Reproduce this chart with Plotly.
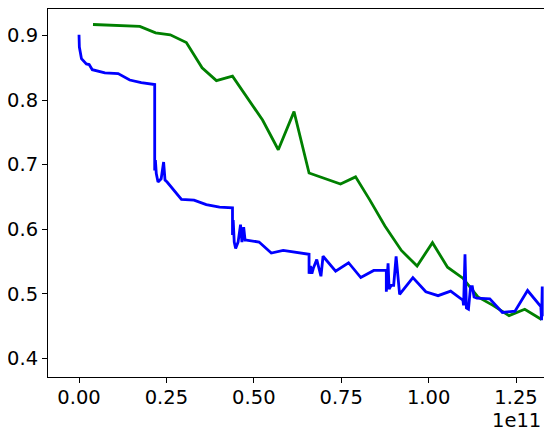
import plotly.graph_objs as go

# x values are in units of 1e11
blue_x = [0.000, 0.001, 0.007, 0.021, 0.029, 0.038, 0.074, 0.112, 0.145, 0.178,
          0.2165, 0.2165, 0.2185, 0.221, 0.226, 0.235, 0.242, 0.246, 0.252, 0.293,
          0.329, 0.364, 0.402, 0.439, 0.439, 0.441, 0.444, 0.448, 0.455, 0.462,
          0.466, 0.471, 0.475, 0.479, 0.515, 0.550, 0.584, 0.658, 0.658, 0.662,
          0.666, 0.670, 0.680, 0.686, 0.692, 0.698, 0.734, 0.771, 0.806, 0.843,
          0.879, 0.879, 0.884, 0.887, 0.893, 0.900, 0.907, 0.917, 0.955, 0.992,
          1.027, 1.063, 1.098, 1.100, 1.104, 1.108, 1.114, 1.120, 1.125, 1.130,
          1.138, 1.175, 1.211, 1.247, 1.283, 1.321, 1.323, 1.325, 1.325]
blue_y = [0.901, 0.882, 0.864, 0.856, 0.855, 0.847, 0.842, 0.841, 0.831, 0.827,
          0.824, 0.691, 0.707, 0.686, 0.673, 0.678, 0.704, 0.676, 0.673, 0.646,
          0.645, 0.638, 0.634, 0.633, 0.591, 0.614, 0.580, 0.570, 0.580, 0.607,
          0.580, 0.603, 0.583, 0.583, 0.580, 0.563, 0.567, 0.561, 0.531, 0.543,
          0.531, 0.539, 0.553, 0.540, 0.527, 0.558, 0.535, 0.548, 0.525, 0.536,
          0.536, 0.503, 0.547, 0.507, 0.513, 0.513, 0.558, 0.499, 0.525, 0.503,
          0.497, 0.504, 0.490, 0.482, 0.561, 0.478, 0.476, 0.511, 0.511, 0.495,
          0.493, 0.492, 0.471, 0.473, 0.505, 0.480, 0.459, 0.511, 0.465]

green_x = [0.040, 0.174, 0.219, 0.261, 0.307, 0.352, 0.393, 0.439, 0.525, 0.570,
           0.615, 0.658, 0.748, 0.791, 0.832, 0.875, 0.922, 0.967, 1.011, 1.054,
           1.098, 1.141, 1.184, 1.230, 1.275, 1.323]
green_y = [0.917, 0.914, 0.904, 0.901, 0.889, 0.850, 0.830, 0.837, 0.769, 0.723,
           0.782, 0.687, 0.670, 0.681, 0.645, 0.605, 0.567, 0.543, 0.579, 0.541,
           0.524, 0.495, 0.482, 0.466, 0.476, 0.460]

x_ticks = [0.0, 0.25, 0.5, 0.75, 1.0, 1.25]
y_ticks = [0.4, 0.5, 0.6, 0.7, 0.8, 0.9]

traces = [
    go.Scatter(x=green_x, y=green_y, mode='lines', line=dict(color='#008000', width=2.8)),
    go.Scatter(x=blue_x, y=blue_y, mode='lines', line=dict(color='#0000ff', width=2.8)),
]

axis_style = dict(
    showgrid=False, zeroline=False, showline=True, mirror=True,
    linecolor='black', linewidth=1.1, ticks='outside', ticklen=5,
    tickwidth=1.1, tickcolor='black', automargin=False,
)

# the page body adds an 8px margin, so the figure is 8px smaller and shifted
layout = go.Layout(
    width=544, height=428,
    margin=dict(l=40, r=8, t=1, b=59),
    plot_bgcolor='#ffffff', paper_bgcolor='#ffffff',
    showlegend=False,
    font=dict(family='DejaVu Sans', size=19.5, color='black'),
    xaxis=dict(range=[-0.0887, 1.330], tickvals=x_ticks, tickformat='.2f',
               ticklabelstandoff=-2, **axis_style),
    yaxis=dict(range=[0.371, 0.941], tickvals=y_ticks, tickformat='.1f', **axis_style),
    annotations=[dict(text='1e11', xref='paper', yref='paper', x=1, y=-0.118,
                      xanchor='right', yanchor='middle', showarrow=False, xshift=-1)],
)

fig = go.Figure(data=traces, layout=layout)
fig.write_html("out.html")
